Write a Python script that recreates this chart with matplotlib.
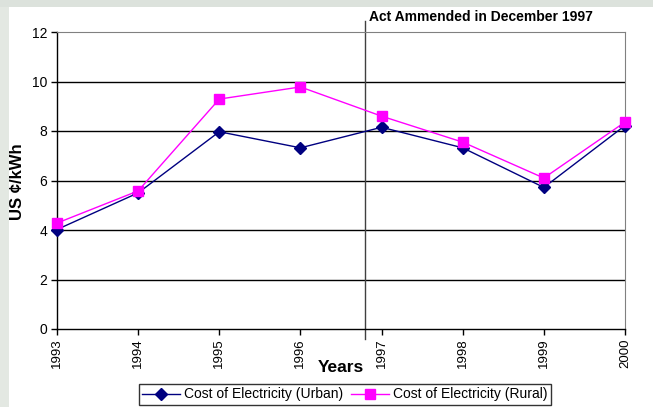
import matplotlib
matplotlib.use("Agg")
import matplotlib.pyplot as plt
from matplotlib.patches import Rectangle
import matplotlib.transforms as mtransforms

# chart data
years = [1993, 1994, 1995, 1996, 1997, 1998, 1999, 2000]
urban = [4.02, 5.5, 7.97, 7.32, 8.15, 7.32, 5.72, 8.22]
rural = [4.28, 5.58, 9.29, 9.78, 8.6, 7.55, 6.1, 8.36]
y_ticks = [0, 2, 4, 6, 8, 10, 12]
act_year = 1996.8
act_label = "Act Ammended in December 1997"
series_labels = ["Cost of Electricity (Urban)", "Cost of Electricity (Rural)"]

plt.rcParams["font.family"] = ["Liberation Sans", "DejaVu Sans"]

fig = plt.figure(figsize=(6.53, 4.07), dpi=100)
fig.patch.set_facecolor("white")

# slide background strips (left and top)
fig.patches.append(Rectangle((0, 0), 9 / 653, 1, transform=fig.transFigure,
                             facecolor="#e3e8e2", edgecolor="none", zorder=0))
fig.patches.append(Rectangle((0, 1 - 7 / 407), 1, 7 / 407, transform=fig.transFigure,
                             facecolor="#dce2dc", edgecolor="none", zorder=0))

ax = fig.add_axes([57 / 653, 1 - 329 / 407, 568 / 653, 297 / 407])
ax.set_xlim(1993, 2000)
ax.set_ylim(0, 12)
ax.set_yticks(y_ticks)
ax.set_xticks(years)
ax.set_xticklabels([str(y) for y in years], rotation=90, fontsize=9.5)
ax.tick_params(axis="y", labelsize=10, length=4, width=1, direction="out", pad=3)
ax.tick_params(axis="x", length=4, width=1, direction="out", pad=3)

for y in y_ticks[1:-1]:
    ax.axhline(y, color="black", lw=1, zorder=1)
for side in ["top", "right"]:
    ax.spines[side].set_color("#808080")
for side in ["left", "bottom"]:
    ax.spines[side].set_color("black")
    ax.spines[side].set_linewidth(1)

ax.plot(years, urban, color="#000080", lw=1, marker="D", markersize=6.5,
        markerfacecolor="#000080", markeredgecolor="#000080",
        label=series_labels[0], zorder=3, clip_on=False)
ax.plot(years, rural, color="#ff00ff", lw=1, marker="s", markersize=7,
        markerfacecolor="#ff00ff", markeredgecolor="#ff00ff",
        label=series_labels[1], zorder=3, clip_on=False)

# act amendment marker
trans = mtransforms.blended_transform_factory(ax.transData, ax.transAxes)
ax.plot([act_year, act_year], [-0.034, 1.037], transform=trans, color="#404040",
        lw=1, clip_on=False, zorder=2)
ax.text(act_year + 0.04, 1.027, act_label, transform=trans, fontsize=10,
        fontweight="bold", ha="left", va="bottom")

fig.text(341 / 653, 1 - 368 / 407, "Years", fontsize=12.5, fontweight="bold",
         ha="center", va="center")
fig.text(18 / 653, 1 - 182 / 407, "US ¢/kWh", fontsize=12, fontweight="bold",
         rotation=90, ha="center", va="center")

leg = fig.legend(loc="upper center", bbox_to_anchor=(345 / 653, 1 - 384 / 407),
                 ncol=2, fontsize=10, frameon=True, fancybox=False,
                 handlelength=2.7, handletextpad=0.3, columnspacing=0.6,
                 borderpad=0.25, borderaxespad=0)
leg.get_frame().set_edgecolor("black")
leg.get_frame().set_linewidth(1)

fig.savefig("out.png", dpi=100)
